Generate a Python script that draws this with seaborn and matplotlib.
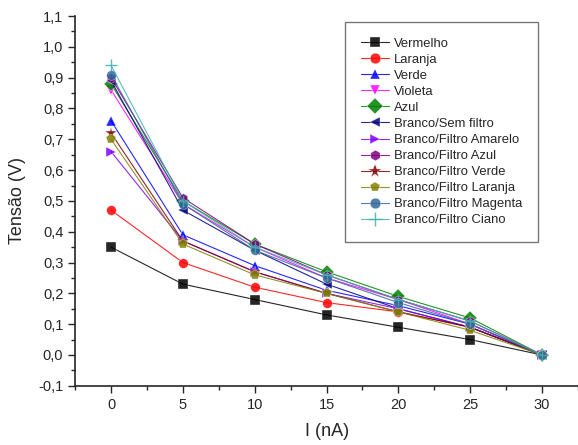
import numpy as np
import pandas as pd
import matplotlib
matplotlib.use("Agg")
import matplotlib.pyplot as plt
import seaborn as sns
from matplotlib.ticker import MultipleLocator, FuncFormatter

corrente = [0, 5, 10, 15, 20, 25, 30]

series_names = ["Vermelho", "Laranja", "Verde", "Violeta", "Azul",
                "Branco/Sem filtro", "Branco/Filtro Amarelo", "Branco/Filtro Azul",
                "Branco/Filtro Verde", "Branco/Filtro Laranja",
                "Branco/Filtro Magenta", "Branco/Filtro Ciano"]

vermelho = [0.35, 0.23, 0.18, 0.13, 0.09, 0.05, 0.0]
laranja = [0.47, 0.30, 0.22, 0.17, 0.14, 0.09, 0.0]
verde = [0.76, 0.39, 0.29, 0.21, 0.16, 0.10, 0.0]
violeta = [0.86, 0.49, 0.35, 0.25, 0.18, 0.10, 0.0]
azul = [0.88, 0.50, 0.36, 0.27, 0.19, 0.12, 0.0]
branco_sem = [0.89, 0.47, 0.34, 0.23, 0.15, 0.09, 0.0]
branco_amarelo = [0.66, 0.37, 0.27, 0.20, 0.15, 0.09, 0.0]
branco_azul = [0.90, 0.51, 0.36, 0.26, 0.18, 0.11, 0.0]
branco_verde = [0.72, 0.37, 0.27, 0.20, 0.14, 0.09, 0.0]
branco_laranja = [0.70, 0.36, 0.26, 0.20, 0.14, 0.08, 0.0]
branco_magenta = [0.91, 0.49, 0.34, 0.25, 0.17, 0.10, 0.0]
branco_ciano = [0.94, 0.50, 0.35, 0.26, 0.18, 0.11, 0.0]

valores = [vermelho, laranja, verde, violeta, azul, branco_sem, branco_amarelo,
           branco_azul, branco_verde, branco_laranja, branco_magenta, branco_ciano]

cores = ["#000000", "#ff0000", "#0000ff", "#ff00ff", "#008000", "#000080",
         "#8000ff", "#800080", "#800000", "#808000", "#336699", "#40b0b0"]
marcadores = ["s", "o", "^", "v", "D", "<", ">", "h", "*", "p", "o", "+"]

rows = []
for nome, vals in zip(series_names, valores):
    for x, y in zip(corrente, vals):
        rows.append({"I": x, "V": y, "serie": nome})
df = pd.DataFrame(rows)

sns.set_style("ticks")
plt.rcParams['font.family'] = ['Liberation Sans', 'DejaVu Sans']

fig = plt.figure(figsize=(5.78, 4.45), dpi=100)
ax = fig.add_axes([0.13, 0.133, 0.87, 0.831])

for nome, vals, c, m in zip(series_names, valores, cores, marcadores):
    sub = df[df["serie"] == nome]
    ms = 7
    if m in ("*", "+"):
        ms = 9
    sns.lineplot(data=sub, x="I", y="V", ax=ax, color=c, marker=m,
                 markersize=ms, markeredgecolor=c if m == "+" else "white",
                 markeredgewidth=1.0 if m == "+" else 0.3,
                 linewidth=0.8, alpha=0.85, label=nome)

ax.set_xlim(-2.5, 32.5)
ax.set_ylim(-0.1, 1.1)
ax.xaxis.set_major_locator(MultipleLocator(5))
ax.xaxis.set_minor_locator(MultipleLocator(2.5))
ax.yaxis.set_major_locator(MultipleLocator(0.1))
ax.yaxis.set_minor_locator(MultipleLocator(0.05))
ax.yaxis.set_major_formatter(FuncFormatter(lambda v, p: f"{v:.1f}".replace(".", ",")))
ax.tick_params(which="major", length=5, width=1, labelsize=10.5, direction="out")
ax.tick_params(which="minor", length=3, width=1, direction="out")
sns.despine(ax=ax)
for s in ["left", "bottom"]:
    ax.spines[s].set_linewidth(1.2)

ax.set_xlabel("I (nA)", fontsize=13, labelpad=8)
ax.set_ylabel("Tensão (V)", fontsize=13, labelpad=9)

leg = ax.legend(loc="upper right", bbox_to_anchor=(0.920, 0.984), fontsize=9.4,
                frameon=True, fancybox=False, edgecolor="#555555",
                handlelength=2.1, labelspacing=0.30, borderpad=1.2,
                handletextpad=0.4, borderaxespad=0, markerscale=1.1)
leg.get_frame().set_linewidth(1.0)

fig.savefig("out.png", dpi=100)
